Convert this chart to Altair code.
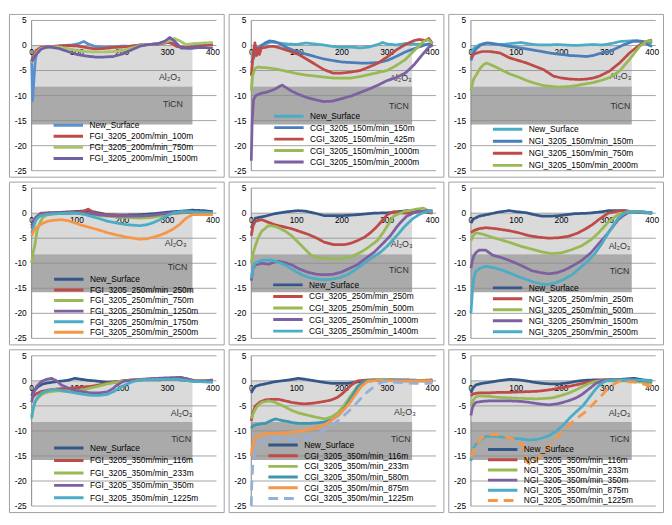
import altair as alt
import pandas as pd

# ---------------- data ----------------
P1_NAMES = ["New_Surface", "FGI_3205_200m/min_100m", "FGI_3205_200m/min_750m", "FGI_3205_200m/min_1500m"]
P1_SERIES = [
    [(0,-3),(2,-11),(5,-7),(8,-3),(12,-1.2),(20,-0.6),(30,-0.3),(50,-0.2),(70,0),(90,0.1),(105,0.4),(115,0.8),(125,0.3),(140,-0.2),(160,-0.4),(180,-0.3),(200,-0.1),(220,-0.2),(240,0.1),(260,0.2),(280,0.3),(300,0.6),(310,0.5),(320,0.2),(330,-0.5),(345,-0.3),(360,0.1),(380,0.3),(400,0.3)],
    [(0,-3),(5,-2),(10,-1),(20,-0.4),(40,-0.2),(60,-0.1),(80,0),(100,-0.1),(120,-0.4),(140,-0.7),(160,-0.6),(180,-0.4),(200,-0.3),(220,-0.1),(240,0.1),(260,0.2),(280,0.3),(300,0.6),(310,0.4),(320,-0.2),(340,-0.4),(360,-0.3),(380,0),(400,0.2)],
    [(0,-3.5),(5,-2.5),(10,-1.5),(20,-0.6),(40,-0.3),(60,-0.3),(80,-0.6),(100,-1),(120,-1.2),(140,-1.3),(160,-1.3),(180,-1.2),(200,-1),(220,-0.5),(240,0),(260,0.2),(280,0.4),(300,0.8),(315,1.4),(325,1.0),(340,0.2),(360,0.4),(380,0.5),(400,0.6)],
    [(0,-3.2),(5,-2.5),(10,-1.8),(20,-0.8),(30,-0.4),(40,-0.3),(60,-0.6),(80,-1.2),(100,-1.8),(120,-2.1),(140,-2.3),(160,-2.3),(180,-2.2),(200,-1.7),(220,-0.9),(240,-0.1),(260,0.2),(280,0.4),(295,0.9),(305,1.6),(315,0.9),(330,-0.5),(350,-0.6),(370,-0.4),(400,-0.5)],
]

P2_NAMES = ["New_Surface", "CGI_3205_150m/min_150m", "CGI_3205_150m/min_425m", "CGI_3205_150m/min_1000m", "CGI_3205_150m/min_2000m"]
P2_SERIES = [
    [(0,-2),(5,-1.5),(10,-0.8),(20,0),(30,0.3),(45,0.7),(60,0.5),(80,0.3),(100,0.2),(120,0.5),(140,0.3),(160,0.1),(180,-0.2),(200,-0.4),(220,-0.3),(240,-0.5),(260,-0.3),(280,0.2),(290,0.6),(300,0.3),(320,0.1),(340,0.4),(360,0.3),(380,0.2),(400,0.1)],
    [(0,-3.5),(5,-2.5),(10,-1.5),(20,-0.3),(30,0.5),(40,0.9),(50,0.8),(60,0.5),(80,-0.5),(100,-1.2),(120,-1.7),(140,-2.2),(160,-2.7),(180,-3.0),(200,-3.3),(220,-3.4),(240,-3.5),(260,-3.5),(280,-3.4),(300,-3.0),(320,-2.2),(340,-1.3),(360,-0.6),(380,0),(390,0.3),(400,0.2)],
    [(0,-6),(3,-3),(6,-1),(8,0.5),(10,-0.5),(12,-2),(15,-0.5),(18,-1.8),(22,-0.5),(30,-0.4),(40,-0.2),(50,-0.2),(60,-0.4),(80,-1.0),(100,-1.6),(120,-2.6),(140,-3.7),(160,-4.8),(180,-5.5),(200,-5.5),(220,-5.3),(240,-5.0),(260,-4.3),(280,-3.5),(300,-2.3),(320,-0.9),(340,0.2),(360,1.0),(370,1.2),(385,1.0),(392,1.4),(400,0.4)],
    [(0,-9),(3,-6),(8,-4.6),(15,-4.3),(25,-4.4),(40,-4.5),(60,-4.8),(80,-5.2),(100,-5.6),(120,-5.9),(140,-6.1),(160,-6.3),(180,-6.5),(200,-6.5),(220,-6.5),(240,-6.2),(260,-5.8),(280,-5.4),(300,-5.0),(320,-4.0),(340,-2.8),(360,-1.0),(380,0.8),(390,1.2),(400,0.4)],
    [(0,-23),(2,-15),(5,-10.8),(10,-10),(20,-9.6),(35,-9.3),(50,-8.8),(60,-8.3),(68,-7.9),(75,-8.3),(87,-9),(100,-9.6),(120,-10.3),(140,-10.8),(160,-11.2),(180,-11.1),(200,-10.6),(220,-10.1),(240,-9.4),(260,-8.7),(280,-7.9),(300,-7.0),(320,-6.4),(340,-5.5),(360,-3.8),(375,-2.1),(390,-0.5),(400,0.1)],
]

P3_NAMES = ["New_Surface", "NGI_3205_150m/min_150m", "NGI_3205_150m/min_750m", "NGI_3205_150m/min_2000m"]
P3_SERIES = [
    [(0,-1.5),(5,-0.8),(10,-0.3),(20,0.2),(35,0.5),(50,0.3),(70,0.2),(90,0.4),(110,0.6),(130,0.3),(150,0.1),(170,0.1),(190,0.2),(210,0.1),(230,0),(250,0.1),(270,0.2),(290,0.1),(310,0.4),(330,0.8),(350,0.9),(365,1.0),(380,0.8),(400,0.5)],
    [(0,-3),(5,-1.8),(10,-0.8),(20,0),(30,0.4),(40,0.5),(60,0.2),(86,-0.2),(110,-0.5),(130,-0.8),(150,-1.1),(174,-1.5),(200,-1.8),(218,-2),(240,-2.1),(255,-2.2),(270,-2.0),(284,-1.6),(306,-1.2),(320,-0.6),(336,0.1),(357,0.8),(379,0.8),(390,0.2),(400,-0.2)],
    [(0,-2.5),(5,-1.8),(13,-1.5),(25,-1.2),(42,-1.2),(64,-1.5),(86,-2.5),(105,-3.0),(123,-3.5),(140,-4.1),(160,-4.8),(182,-6.1),(200,-6.5),(218,-6.7),(240,-6.8),(255,-6.7),(270,-6.5),(284,-6.1),(306,-5.1),(328,-3.5),(350,-1.5),(372,0.1),(387,0.8),(400,1.1)],
    [(0,-9),(3,-7.8),(6,-6.7),(13,-5.7),(20,-4.6),(28,-3.8),(35,-3.5),(45,-3.9),(57,-4.4),(70,-5),(86,-5.7),(105,-6.3),(123,-7),(140,-7.5),(160,-8),(180,-8.2),(196,-8.3),(215,-8.2),(233,-8),(250,-7.7),(270,-7.4),(290,-6.9),(306,-6.4),(328,-5.1),(350,-2.8),(372,-0.2),(387,0.8),(400,1.0)],
]

P4_NAMES = ["New_Surface", "FGI_3205_250m/min_250m", "FGI_3205_250m/min_750m", "FGI_3205_250m/min_1250m", "FGI_3205_250m/min_1750m", "FGI_3205_250m/min_2500m"]
P4_SERIES = [
    [(0,-2.5),(5,-1.5),(10,-0.8),(18,-0.3),(30,-0.1),(50,0.1),(70,0.2),(90,0.3),(110,0.4),(125,0.5),(140,0.2),(167,-0.3),(200,-0.4),(239,-0.3),(270,-0.1),(300,0.2),(312,0.3),(330,0.4),(355,0.6),(380,0.5),(400,0.3)],
    [(0,-3),(5,-2),(10,-1),(20,0),(40,0.1),(60,0),(80,0.1),(100,0.2),(115,0.4),(125,0.8),(135,0.2),(150,-0.2),(167,-0.3),(200,-0.5),(239,-0.6),(270,-0.4),(300,-0.2),(330,0.1),(360,0.1),(380,0),(400,0)],
    [(0,-10),(3,-8),(7,-6.5),(12,-3.5),(18,-2),(25,-0.8),(36,-0.3),(60,-0.1),(94,0),(130,-0.3),(167,-0.6),(200,-0.8),(239,-1),(260,-0.9),(283,-0.6),(300,-0.3),(312,0),(340,0.1),(370,0.1),(400,0.1)],
    [(0,-2.5),(5,-1.5),(10,-0.8),(20,-0.2),(40,0),(60,0.1),(80,0),(100,0.1),(130,-0.1),(167,-0.5),(200,-0.6),(239,-0.6),(270,-0.4),(300,0),(330,0.2),(360,0.2),(400,0.1)],
    [(0,-4),(5,-2.5),(10,-1.3),(18,-0.6),(30,-0.3),(50,-0.1),(80,0),(100,0),(115,-0.2),(130,-0.6),(150,-1.1),(167,-1.6),(190,-2.0),(210,-2.3),(239,-2.5),(255,-2.3),(268,-1.9),(283,-1.3),(297,-0.6),(312,0),(326,0.3),(350,0.3),(380,0.2),(400,0)],
    [(0,-4.5),(5,-3.5),(14,-2.6),(25,-2),(36,-1.6),(50,-1.4),(65,-1.3),(80,-1.5),(94,-1.9),(110,-2.4),(130,-2.9),(150,-3.4),(167,-3.9),(190,-4.4),(210,-4.8),(239,-5.2),(255,-5.1),(268,-4.8),(283,-4.4),(297,-3.9),(312,-3.2),(326,-2.3),(341,-1),(355,-0.3),(380,-0.3),(400,-0.3)],
]

P5_NAMES = ["New_Surface", "CGI_3205_250m/min_250m", "CGI_3205_250m/min_500m", "CGI_3205_250m/min_1000m", "CGI_3205_250m/min_1400m"]
P5_SERIES = [
    [(0,-3),(5,-2),(9,-1),(20,-0.8),(31,-0.6),(52,-0.1),(80,0.3),(103,0.5),(120,0.4),(140,0),(161,-0.5),(180,-0.5),(198,-0.5),(220,-0.4),(234,-0.3),(271,0),(307,0.1),(343,0.5),(365,0.4),(380,0.3),(400,0)],
    [(0,-4.5),(4,-2.5),(9,-1.6),(23,-1.3),(40,-1.9),(52,-2.3),(70,-2.7),(89,-3.1),(105,-3.6),(125,-4.2),(145,-5.0),(161,-5.8),(183,-6.3),(205,-6.3),(220,-6.0),(234,-5.5),(250,-4.8),(263,-3.9),(275,-2.9),(285,-1.9),(300,-0.3),(314,0.3),(336,0),(360,0.2),(380,0.3),(400,0.1)],
    [(0,-10),(4,-8),(9,-6.5),(16,-4.8),(23,-3.6),(38,-2.5),(50,-2.6),(60,-2.9),(75,-3.6),(89,-4.5),(100,-5.5),(111,-6.5),(122,-7.5),(132,-8.4),(145,-8.8),(161,-9),(191,-9.2),(220,-8.7),(235,-8.1),(249,-7.4),(263,-6.5),(278,-5.5),(290,-4.0),(300,-2.6),(314,-0.6),(336,0.3),(365,0.8),(380,1.0),(400,0.1)],
    [(0,-13.5),(4,-11),(9,-10.3),(23,-10),(38,-10.2),(50,-9.8),(60,-9.6),(75,-9.9),(89,-10.3),(105,-11.1),(125,-11.8),(145,-12.2),(161,-12.3),(180,-12.2),(198,-11.8),(215,-11.1),(234,-10.3),(250,-9.2),(271,-7.8),(290,-6.1),(307,-4.5),(320,-2.9),(329,-1.9),(343,-0.6),(365,0.3),(394,0.5),(400,0.4)],
    [(0,-13),(4,-10.8),(9,-10),(23,-9.4),(45,-9.4),(60,-9.8),(74,-10.3),(90,-11.2),(111,-12.3),(130,-12.9),(147,-13.2),(160,-13.3),(176,-13.2),(195,-12.9),(212,-12.3),(230,-11.3),(249,-10),(265,-9),(285,-7.8),(300,-6.6),(314,-5.2),(326,-4),(336,-2.9),(347,-1.9),(358,-1),(370,-0.3),(380,0.1),(400,0.6)],
]

P6_NAMES = ["New_Surface", "NGI_3205_250m/min_250m", "NGI_3205_250m/min_500m", "NGI_3205_250m/min_1500m", "NGI_3205_250m/min_2500m"]
P6_SERIES = [
    [(0,-2),(5,-1.2),(18,-0.6),(40,-0.2),(60,0.2),(84,0.5),(100,0.3),(121,0.1),(140,-0.3),(157,-0.6),(175,-0.6),(194,-0.5),(212,-0.3),(230,-0.1),(260,0),(290,0.3),(303,0.5),(320,0.5),(340,0.5),(360,0.3),(377,0.1),(400,0)],
    [(0,-3.9),(8,-3.4),(18,-3.1),(33,-2.9),(55,-3.1),(84,-3.5),(105,-3.9),(128,-4.5),(150,-4.8),(172,-5.0),(195,-4.9),(216,-4.6),(235,-4.0),(252,-3.2),(268,-2.3),(282,-1.3),(293,-0.6),(303,0),(318,0.3),(333,0.5),(355,0.3),(377,0.1),(400,0.1)],
    [(0,-5.5),(5,-4.5),(11,-3.9),(26,-4.2),(50,-4.9),(84,-5.8),(110,-6.6),(143,-7.4),(160,-7.8),(179,-8.1),(201,-7.9),(222,-7.3),(245,-6.5),(265,-5.3),(282,-3.9),(293,-2.8),(303,-1.8),(314,-1),(325,-0.3),(347,0.3),(370,0.3),(400,0)],
    [(0,-11),(3,-9.5),(7,-8.4),(12,-7.8),(18,-7.4),(33,-7.4),(48,-8.4),(65,-8.8),(84,-9.4),(110,-10.4),(135,-11.5),(155,-11.9),(172,-12.1),(190,-11.9),(208,-11.3),(225,-10.5),(245,-9.4),(265,-7.9),(282,-6.1),(293,-5.0),(303,-3.9),(314,-2.6),(325,-1.3),(336,-0.5),(347,0.1),(377,0.3),(400,0)],
    [(0,-20),(3,-16),(6,-13),(11,-11.6),(20,-11),(33,-10.6),(45,-10.8),(55,-11),(70,-11.4),(84,-11.9),(100,-12.5),(121,-13.2),(140,-13.8),(157,-14.2),(172,-14.2),(187,-13.9),(205,-13.2),(223,-12.3),(240,-11),(260,-9.4),(275,-7.9),(289,-6.1),(300,-4.4),(311,-2.9),(318,-1.9),(325,-1),(340,0.1),(377,0.3),(400,0)],
]

P7_NAMES = ["New_Surface", "FGI_3205_350m/min_116m", "FGI_3205_350m/min_233m", "FGI_3205_350m/min_350m", "FGI_3205_350m/min_1225m"]
P7_SERIES = [
    [(0,-3),(5,-2),(15,-1.1),(25,-0.6),(36,-0.4),(60,-0.1),(80,0.1),(95,0.5),(110,0.3),(125,0.1),(140,0),(167,-0.3),(185,-0.2),(204,0),(240,0.2),(280,0.2),(313,0.3),(340,0.1),(360,-0.1),(380,0),(400,0)],
    [(0,-3.7),(5,-3),(10,-2.6),(22,-2.1),(40,-1.8),(58,-1.6),(80,-1.5),(95,-1.4),(115,-1.2),(131,-1.1),(150,-0.8),(167,-0.5),(185,-0.2),(204,0),(220,0.2),(240,0.3),(276,0.5),(300,0.4),(320,0.6),(340,0.5),(360,0),(380,0),(400,0)],
    [(0,-7),(3,-5.5),(7,-4.5),(11,-3.7),(20,-2.9),(29,-2.4),(45,-2.1),(60,-2),(80,-2.1),(95,-2.2),(110,-1.9),(131,-1.4),(150,-1),(167,-0.6),(185,-0.3),(204,0),(240,0.2),(280,0.3),(320,0.3),(360,0),(400,0)],
    [(0,-4.3),(4,-2.5),(11,-1.1),(22,-0.1),(33,0.3),(44,0.5),(55,0),(65,-0.8),(80,-1.4),(95,-1.9),(115,-2.2),(131,-2.4),(150,-2.4),(167,-2.2),(180,-1.5),(189,-0.8),(204,0),(240,0.2),(276,0.5),(300,0.6),(330,0.7),(360,0),(380,-0.1),(400,0.2)],
    [(0,-7.5),(3,-5.8),(7,-4.3),(14,-3.2),(22,-2.4),(35,-2),(51,-1.7),(70,-2),(95,-2.4),(115,-2.7),(131,-2.9),(150,-2.9),(167,-2.7),(180,-2.2),(189,-1.7),(200,-1.1),(211,-0.6),(225,-0.1),(240,0.2),(276,0.3),(320,0.3),(360,-0.1),(380,-0.2),(400,-0.3)],
]

P8_NAMES = ["New_Surface", "CGI_3205_350m/min_116m", "CGI_3205_350m/min_233m", "CGI_3205_350m/min_580m", "CGI_3205_350m/min_875m", "CGI_3205_350m/min_1225m"]
P8_SERIES = [
    [(0,-2.4),(3,-1.8),(9,-1.1),(20,-0.8),(31,-0.6),(50,-0.2),(67,0),(85,0.2),(104,0.5),(120,0.3),(140,0),(160,-0.3),(177,-0.5),(195,-0.5),(214,-0.5),(235,-0.2),(260,0),(290,0.1),(309,0.2),(340,0.2),(370,0.1),(400,-0.1)],
    [(0,-8),(3,-6.5),(9,-5),(20,-4.2),(31,-3.8),(45,-3.7),(60,-3.7),(75,-4),(89,-4.3),(104,-4.5),(118,-4.6),(133,-4.5),(148,-4.3),(162,-4.1),(177,-3.8),(190,-3.3),(199,-2.7),(210,-1.8),(221,-0.8),(235,0),(260,0.2),(300,0.1),(340,0),(380,0.1),(400,0.2)],
    [(0,-7.5),(3,-6.8),(9,-5.6),(16,-4.8),(23,-4.3),(38,-4),(50,-4.2),(60,-4.6),(75,-5.2),(89,-5.9),(104,-6.4),(126,-6.9),(145,-7.3),(162,-7.6),(177,-7.2),(192,-6.3),(203,-5.1),(214,-3.7),(225,-2.3),(235,-1.1),(250,-0.1),(270,0.2),(300,0.2),(350,0),(400,0)],
    [(0,-9.5),(3,-9),(9,-8.8),(20,-8.6),(31,-8.5),(42,-8),(53,-7.6),(67,-7.9),(80,-8.1),(89,-8.3),(104,-8.5),(126,-8.5),(145,-8.4),(162,-8.2),(177,-7.8),(192,-6.9),(203,-5.8),(214,-4.3),(225,-2.7),(235,-1.1),(250,-0.1),(270,0.2),(300,0.2),(350,0),(400,0)],
    [(0,-15),(2,-13.5),(5,-12.2),(9,-11.4),(20,-10.8),(31,-10.5),(50,-10.5),(67,-10.5),(85,-10.3),(104,-10.1),(122,-9.8),(140,-9.5),(160,-8.8),(177,-7.9),(192,-6.8),(206,-5.6),(218,-4.3),(228,-3),(236,-2),(243,-1.1),(257,-0.1),(280,0.1),(320,0),(360,0),(400,0)],
    [(0,-25),(1,-21),(3,-17.2),(6,-15),(9,-13.4),(16,-12.6),(23,-12.1),(35,-11.7),(53,-11.4),(70,-11.5),(89,-11.8),(108,-11.8),(126,-11.4),(145,-10.7),(162,-9.8),(177,-8.9),(192,-7.9),(206,-6.8),(221,-5.6),(236,-4.1),(250,-2.7),(262,-1.8),(272,-1.1),(283,-0.5),(294,-0.1),(320,-0.3),(360,-0.5),(400,-0.5)],
]

P9_NAMES = ["New_Surface", "NGI_3205_350m/min_116m", "NGI_3205_350m/min_233m", "NGI_3205_350m/min_350m", "NGI_3205_350m/min_875m", "NGI_3205_350m/min_1225m"]
P9_SERIES = [
    [(0,-2.4),(4,-1.5),(11,-0.8),(25,-0.5),(40,-0.3),(60,0),(85,0.3),(105,0.2),(122,0),(140,-0.3),(158,-0.5),(175,-0.6),(195,-0.6),(215,-0.4),(232,-0.1),(250,0.1),(276,0.2),(300,0.2),(330,0.3),(360,0.5),(380,0.2),(400,0)],
    [(0,-3),(5,-2.6),(18,-2.4),(40,-2.4),(60,-2.3),(85,-2.3),(110,-2.2),(144,-2.1),(165,-1.9),(180,-1.7),(200,-1.4),(217,-1.1),(232,-0.8),(247,-0.5),(262,-0.2),(276,0),(300,0.2),(340,0.1),(380,0),(400,0)],
    [(0,-5),(5,-3.8),(11,-3.2),(18,-3),(40,-3.1),(60,-3.3),(85,-3.4),(110,-3.5),(144,-3.6),(165,-3.5),(180,-3.4),(200,-2.9),(217,-2.4),(232,-1.8),(247,-1.1),(262,-0.5),(276,-0.1),(300,0),(340,0),(380,-0.3),(400,-0.5)],
    [(0,-6.9),(3,-5.5),(6,-4.8),(11,-4.3),(25,-4.1),(40,-4),(60,-4),(85,-4),(110,-4.1),(129,-4.3),(150,-4.6),(173,-4.8),(190,-4.6),(203,-4.3),(218,-3.9),(232,-3.4),(244,-2.8),(254,-2.1),(265,-1.3),(276,-0.5),(290,0),(310,0.2),(340,0.2),(380,0),(400,-0.1)],
    [(0,-16),(2,-14.5),(5,-13.5),(11,-12.7),(20,-11.8),(33,-11.1),(55,-11.1),(85,-11.4),(110,-11.6),(129,-11.8),(145,-11.7),(158,-11.4),(173,-10.9),(188,-10.1),(203,-8.9),(217,-7.5),(232,-6.2),(247,-5),(258,-3.7),(269,-2.4),(276,-1.6),(284,-0.8),(298,0),(320,0.2),(360,0.2),(400,0)],
    [(0,-15.3),(3,-14.5),(7,-13.4),(15,-12.3),(25,-11.3),(33,-10.8),(55,-10.7),(70,-11),(85,-11.4),(100,-11.8),(114,-12.8),(125,-16.3),(135,-16.8),(144,-15.8),(158,-14.7),(170,-13.5),(180,-12.1),(192,-11),(203,-9.8),(218,-8.7),(232,-7.6),(250,-6.4),(269,-4.7),(280,-3.7),(291,-2.7),(306,-1.1),(328,-0.1),(350,-0.2),(365,-0.3),(380,-0.6),(394,-1),(400,-1)],
]

X_TICKS = [0, 100, 200, 300, 400]
Y_TICKS = [5, 0, -5, -10, -15, -20, -25]
BAND_NAMES = ["Al₂O₃", "TiCN"]
BAND_TOP = [0, -8.2]
BAND_BOTTOM = [-8.2, -15.8]

# ---------------- styling / layout ----------------
BLUE, RED, GREEN, PURPLE = "#4A7EBB", "#BE4B48", "#98B954", "#7D60A0"
AQUA, ORANGE, NAVY = "#4BACC6", "#F79646", "#34578A"
SOLID, DASH = [1, 0], [10, 6]

PANEL_STYLE = [
    dict(names=P1_NAMES, series=P1_SERIES, colors=["#5A8FD0", RED, "#A9C56A", "#6F5FA3"], dashed=[]),
    dict(names=P2_NAMES, series=P2_SERIES, colors=[AQUA, BLUE, RED, GREEN, PURPLE], dashed=[]),
    dict(names=P3_NAMES, series=P3_SERIES, colors=[AQUA, BLUE, RED, GREEN], dashed=[]),
    dict(names=P4_NAMES, series=P4_SERIES, colors=[NAVY, RED, GREEN, PURPLE, AQUA, ORANGE], dashed=[]),
    dict(names=P5_NAMES, series=P5_SERIES, colors=[NAVY, RED, GREEN, PURPLE, AQUA], dashed=[]),
    dict(names=P6_NAMES, series=P6_SERIES, colors=[NAVY, RED, GREEN, PURPLE, AQUA], dashed=[]),
    dict(names=P7_NAMES, series=P7_SERIES, colors=[NAVY, RED, GREEN, PURPLE, AQUA], dashed=[]),
    dict(names=P8_NAMES, series=P8_SERIES, colors=[NAVY, RED, GREEN, "#3F97AB", ORANGE, "#95B0D8"], dashed=[5]),
    dict(names=P9_NAMES, series=P9_SERIES, colors=[NAVY, RED, GREEN, PURPLE, AQUA, ORANGE], dashed=[5]),
]
LEGEND_TOP = [-16.5, -14.7, -17.3, -13.8, -14.9, -15.5, -14.0, -13.4, -14.3]   # data units, first row
LEGEND_STEP = [11.3, 11.7, 12.3, 10.8, 11.8, 11.2, 12.7, 10.9, 10.4]           # px per row
LEGEND_X = [44, 45, 44, 44.5, 44, 44, 44.5, 39, 39]
LEGEND_SHIFT = -3
AL_POS = [(305, -6.3), (330, -6.5), (330, -6.2), (318, -5.9), (332, -6.2), (328, -6.5), (331, -6.5), (339, -6.3), (328, -6.5)]
TICN_POS = [(312, -11.6), (326, -12), (330, -12), (322, -10.7), (326, -11.4), (328, -11.6), (330, -11.6), (330, -11.6), (328, -11.6)]

W, H = 219, 166
X_DOMAIN = [-50, 424]
Y_DOMAIN = [-26.2, 6.3]
BAND_X_END = 355
GRID_X_END = 408
CLIP = 9
FONT = "Liberation Sans"
TICK_FONT = 8.5


def ypx(v):
    return (Y_DOMAIN[1] - v) / (Y_DOMAIN[1] - Y_DOMAIN[0]) * H


def make_panel(i):
    st = PANEL_STYLE[i]
    rows = []
    for name, ser in zip(st["names"], st["series"]):
        for k, (xv, yv) in enumerate(ser):
            rows.append({"series": name, "x": xv, "y": yv, "k": k})
    df = pd.DataFrame(rows)

    xsc = alt.Scale(domain=X_DOMAIN, nice=False, zero=False)
    ysc = alt.Scale(domain=Y_DOMAIN, nice=False, zero=False)

    def X(f):
        return alt.X(f, scale=xsc, axis=None)

    def Y(f):
        return alt.Y(f, scale=ysc, axis=None)

    band_df = pd.DataFrame({"band": BAND_NAMES, "x0": [0, 0], "x1": [BAND_X_END] * 2,
                            "top": BAND_TOP, "bottom": BAND_BOTTOM})
    band_fills = ["#DADADA", "#AAAAAA"]
    bands = [
        alt.Chart(band_df.iloc[[j]]).mark_rect(color=band_fills[j]).encode(
            x=X("x0:Q"), x2="x1:Q", y=Y("top:Q"), y2="bottom:Q")
        for j in range(2)
    ]

    # horizontal gridlines (two points per line)
    g_rows = []
    for gy in Y_TICKS:
        g_rows.append({"gid": gy, "gx": 0, "gy": gy})
        g_rows.append({"gid": gy, "gx": GRID_X_END, "gy": gy})
    grid = alt.Chart(pd.DataFrame(g_rows)).mark_line(color="#8C8C8C", strokeWidth=0.8).encode(
        x=X("gx:Q"), y=Y("gy:Q"), detail="gid:N")

    # vertical axis line at x = 0
    yl_df = pd.DataFrame({"ax": [0, 0], "ay": [Y_TICKS[0], Y_TICKS[-1]]})
    yline = alt.Chart(yl_df).mark_line(color="#868686", strokeWidth=1).encode(x=X("ax:Q"), y=Y("ay:Q"))

    # tick labels
    xt_df = pd.DataFrame({"tx": X_TICKS, "ty": [0] * len(X_TICKS), "lab": [str(v) for v in X_TICKS]})
    xlabels = alt.Chart(xt_df).mark_text(fontSize=TICK_FONT, font=FONT, color="#000000",
                                         baseline="top", dy=3).encode(
        x=X("tx:Q"), y=Y("ty:Q"), text="lab:N")
    yt_df = pd.DataFrame({"tx": [0] * len(Y_TICKS), "ty": Y_TICKS, "lab": [str(v) for v in Y_TICKS]})
    ylabels = alt.Chart(yt_df).mark_text(fontSize=TICK_FONT, font=FONT, color="#000000",
                                         align="right", baseline="middle", dx=-5).encode(
        x=X("tx:Q"), y=Y("ty:Q"), text="lab:N")

    lab_df = pd.DataFrame({"label": BAND_NAMES,
                           "lx": [AL_POS[i][0], TICN_POS[i][0]],
                           "ly": [AL_POS[i][1], TICN_POS[i][1]]})
    labels = alt.Chart(lab_df).mark_text(fontSize=9, font=FONT, color="#333333").encode(
        x=X("lx:Q"), y=Y("ly:Q"), text="label:N")

    names = st["names"]
    dashes = [DASH if j in st["dashed"] else SOLID for j in range(len(names))]
    legend = alt.Legend(orient="none", legendX=LEGEND_X[i],
                        legendY=ypx(LEGEND_TOP[i]) - CLIP / 2 + LEGEND_SHIFT,
                        title=None, symbolType="stroke", symbolSize=900, symbolStrokeWidth=3,
                        labelFontSize=8.5, labelFont=FONT, labelColor="#000000", labelLimit=400,
                        clipHeight=CLIP, rowPadding=LEGEND_STEP[i] - CLIP, padding=0, labelOffset=5)
    lines = alt.Chart(df).mark_line(strokeWidth=2.8, strokeJoin="round").encode(
        x=X("x:Q"),
        y=Y("y:Q"),
        color=alt.Color("series:N", scale=alt.Scale(domain=names, range=st["colors"]), legend=legend),
        strokeDash=alt.StrokeDash("series:N", scale=alt.Scale(domain=names, range=dashes), legend=legend),
        order="k:Q",
    )
    return alt.layer(*bands, grid, yline, labels, xlabels, ylabels, lines).properties(width=W, height=H)


panels = [make_panel(i) for i in range(9)]
chart = (
    alt.concat(*panels, columns=3, spacing=3)
    .resolve_scale(color="independent", strokeDash="independent")
    .properties(padding=0, background="white")
    .configure_view(stroke="#A0A0A0", strokeWidth=1)
)
chart.save("out.html", embed_options={"renderer": "svg", "actions": False})
